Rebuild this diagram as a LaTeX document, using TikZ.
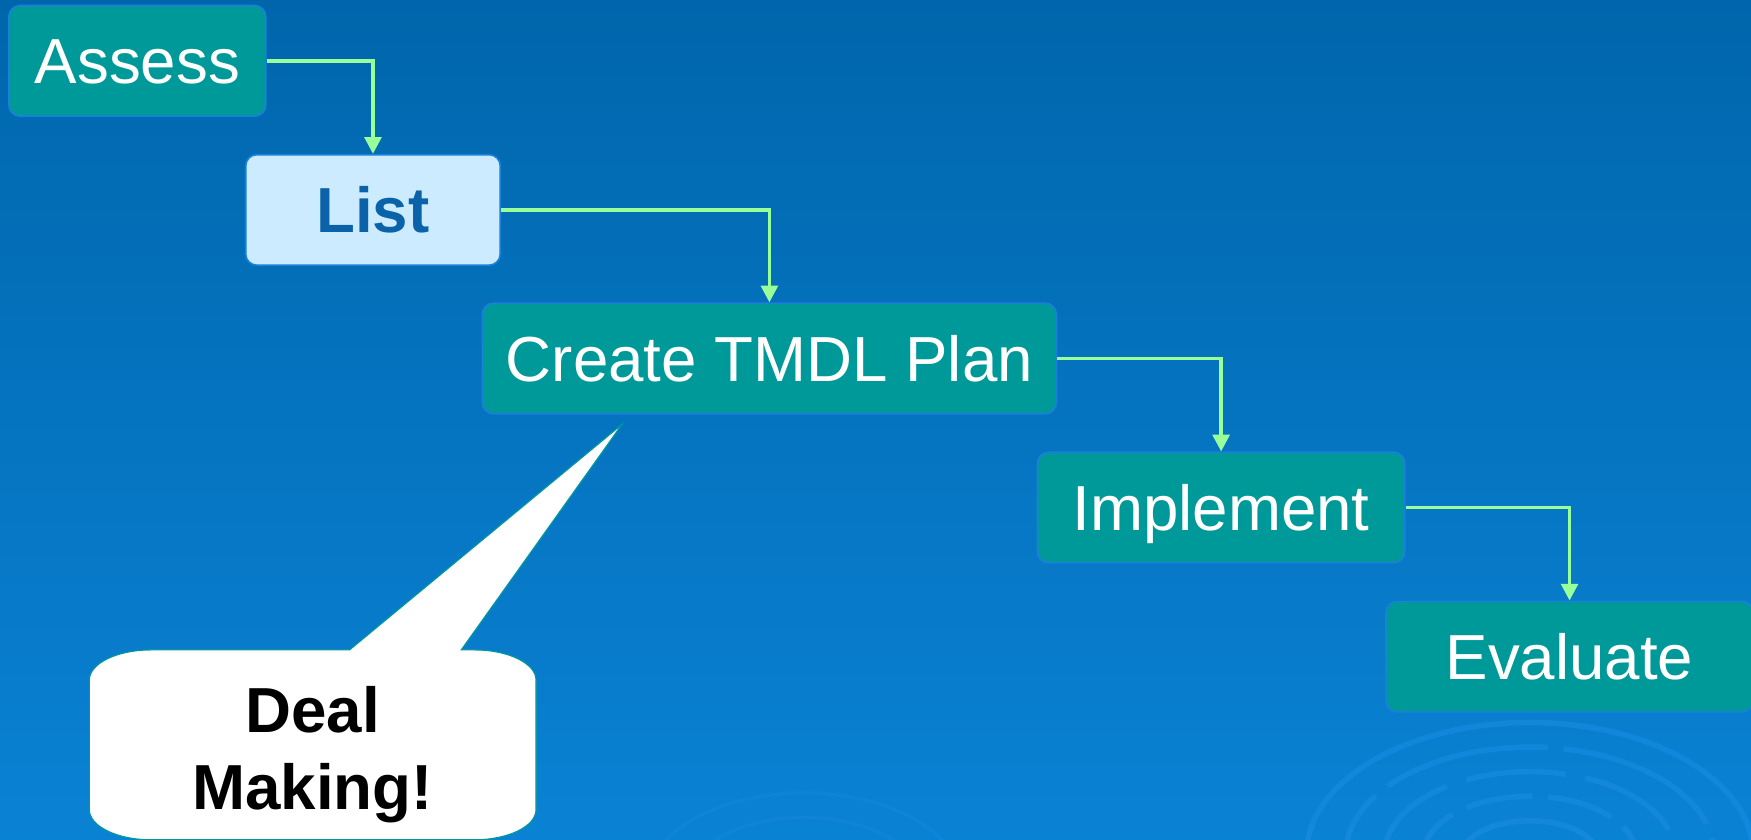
\documentclass[tikz,border=0pt]{standalone}
\usepackage{fontspec}
\setmainfont{Liberation Sans}
\usetikzlibrary{positioning,arrows.meta}

\definecolor{bgtop}{HTML}{0066AC}
\definecolor{bgbot}{HTML}{0A82D4}
\definecolor{stagefill}{HTML}{009999}
\definecolor{stageline}{HTML}{1A80DA}
\definecolor{listfill}{HTML}{CCEBFF}
\definecolor{listtext}{HTML}{0A63A8}
\definecolor{flowgreen}{HTML}{99FF99}
\definecolor{ripple}{HTML}{1E90E8}

\begin{document}
\begin{tikzpicture}[x=1pt,y=-1pt,on grid,
    stage/.style={rectangle,rounded corners=10pt,draw=stageline,line width=1.5pt,
      fill=stagefill,text=white,font=\fontsize{57}{60}\selectfont,
      minimum height=99pt,inner sep=0pt,text height=41pt,text depth=0pt},
    flow/.style={draw=flowgreen,line width=3.2pt,-{Triangle[width=15pt,length=15pt]}},
    ring/.style={draw=ripple,line width=5pt,opacity=0.45}]
  \useasboundingbox (0,0) rectangle (1568,752);
  \fill[top color=bgtop,bottom color=bgbot] (0,0) rectangle (1568,752);
  \clip (0,0) rectangle (1568,752);
  % ripples in the corner
  \draw[ring] (1370,765) ellipse [x radius=200,y radius=118];
  \draw[ring,dash pattern=on 150pt off 14pt] (1370,765) ellipse [x radius=165,y radius=96];
  \draw[ring,dash pattern=on 90pt off 18pt] (1370,765) ellipse [x radius=130,y radius=74];
  \draw[ring,dash pattern=on 60pt off 14pt] (1370,765) ellipse [x radius=95,y radius=52];
  \draw[ring] (1370,765) ellipse [x radius=60,y radius=30];
  \draw[ring,opacity=0.25,line width=3pt] (720,790) ellipse [x radius=140,y radius=80];
  \draw[ring,opacity=0.25,line width=3pt] (720,790) ellipse [x radius=105,y radius=58];

  \node[stage,minimum width=230pt] (assess) at (123,54.5) {Assess};
  \node[stage,minimum width=228pt,fill=listfill,text=listtext,
    font=\fontsize{57}{60}\selectfont\bfseries] (list) [below right=133.5pt and 211pt of assess] {List};
  \node[stage,minimum width=514pt] (plan) [below right=133pt and 355pt of list] {Create TMDL Plan};
  \node[stage,minimum width=329pt] (implement) [below right=133.5pt and 404.5pt of plan] {Implement};
  \node[stage,minimum width=329pt] (evaluate) [below right=133.5pt and 312pt of implement] {Evaluate};

  \draw[flow] (assess.east) -| (list.north);
  \draw[flow] (list.east) -| (plan.north);
  \draw[flow] (plan.east) -| (implement.north);
  \draw[flow] (implement.east) -| (evaluate.north);

  % callout
  \draw[draw=stagefill,fill=white,line width=1pt]
    (80,609) .. controls (80,594) and (105,582) .. (135,582) -- (313,582)
    -- (557,380) -- (413,582) -- (425,582)
    .. controls (455,582) and (480,594) .. (480,609) -- (480,725)
    .. controls (480,740) and (455,752) .. (425,752) -- (135,752)
    .. controls (105,752) and (80,740) .. (80,725) -- cycle;
  \node[align=center,anchor=base,font=\fontsize{57}{69}\selectfont\bfseries] (deal) at (280,725) {Deal\\Making!};
\end{tikzpicture}
\end{document}
